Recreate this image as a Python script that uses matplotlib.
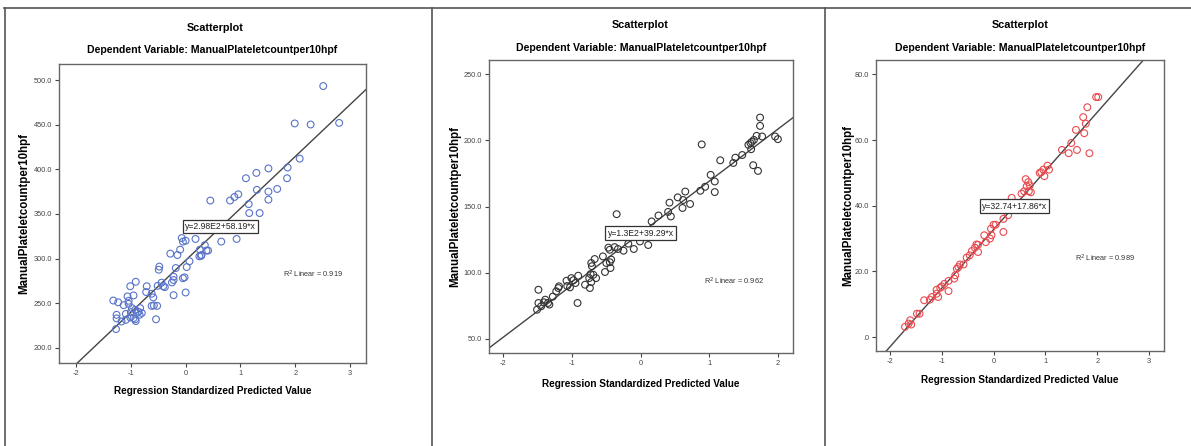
import matplotlib
matplotlib.use("Agg")
import matplotlib.pyplot as plt
from matplotlib.lines import Line2D

# ---- data ----
title_top = "Scatterplot"
title_dep = "Dependent Variable: ManualPlateletcountper10hpf"
x_label = "Regression Standardized Predicted Value"
y_label = "ManualPlateletcountper10hpf"

# panel 1 (blue)
p1_x = [2.51, 1.99, 2.28, 2.80, 2.08, 1.86, 1.85, 1.51, 1.29, 1.10, 0.96, 0.89, 0.81, 0.45,
        1.30, 1.67, 1.51, 1.51, 1.15, 1.16, 1.35, 0.93, 0.65, 0.18, -0.07, -0.05, 0.00, 0.35,
        0.26, 0.38, 0.41, 0.25, 0.28, 0.29, -0.10, -0.28, -0.15, 0.07, -0.18, 0.02, -0.48,
        -0.49, -0.05, -0.02, -0.22, -0.25, -0.22, 0.00, -0.22, -0.44, -0.41, -0.38, -0.51,
        -0.71, -0.72, -0.62, -0.59, -0.62, -0.58, -0.52, -0.54, -0.91, -1.01, -0.95, -1.06,
        -1.04, -1.04, -1.13, -1.32, -1.23, -1.26, -1.26, -1.17, -1.09, -1.27, -1.09, -1.01,
        -0.98, -0.92, -0.89, -0.86, -0.83, -0.84, -0.92, -0.91, -0.95, -1.00, -0.80]
p1_y = [493.3, 451.4, 450.2, 452.0, 412.0, 402.0, 390.0, 401.0, 396.0, 390.0, 372.0, 369.0,
        365.0, 365.0, 377.0, 378.0, 375.0, 366.0, 361.0, 351.0, 351.0, 322.0, 319.0, 322.0,
        323.0, 319.0, 320.0, 315.0, 310.0, 309.0, 309.0, 302.5, 303.0, 304.0, 310.0, 305.5,
        304.0, 297.0, 289.4, 290.5, 291.0, 287.5, 278.0, 279.0, 279.7, 273.3, 276.0, 262.0,
        259.0, 273.0, 269.0, 268.0, 269.5, 269.0, 262.5, 260.6, 256.5, 247.0, 247.5, 247.0,
        232.0, 274.0, 269.0, 258.7, 257.6, 252.7, 249.3, 247.8, 253.0, 251.0, 237.0, 233.0,
        229.5, 231.4, 221.0, 238.0, 234.0, 244.5, 242.6, 239.0, 240.4, 244.5, 237.0, 232.0,
        230.0, 233.3, 240.0, 239.0]
p1_fit = (298.0, 58.19)
p1_eq = "y=2.98E2+58.19*x"
p1_r2 = "0.919"
p1_yticks = [200, 250, 300, 350, 400, 450, 500]
p1_ylabels = ["200.0", "250.0", "300.0", "350.0", "400.0", "450.0", "500.0"]
p1_xticks = [-2, -1, 0, 1, 2, 3]

# panel 2 (black)
p2_x = [1.74, 1.74, 1.77, 1.96, 2.00, 1.69, 1.65, 1.62, 1.60, 1.57, 1.61, 1.64, 1.71, 0.89,
        1.16, 1.38, 1.48, 1.35, 1.02, 1.08, 1.08, 0.94, 0.87, 0.65, 0.62, 0.72, 0.61, 0.54,
        0.42, 0.44, 0.40, 0.26, 0.16, 0.11, -0.01, -0.10, -0.35, -0.18, -0.25, -0.33, -0.38,
        -0.45, -0.47, -0.43, -0.45, -0.50, -0.44, -0.52, -0.55, -0.67, -0.72, -0.71, -0.73,
        -0.69, -0.75, -0.65, -0.72, -0.74, -0.81, -0.91, -0.95, -1.01, -0.98, -1.08, -1.07,
        -1.03, -0.92, -1.20, -1.19, -1.23, -1.28, -1.39, -1.41, -1.33, -1.45, -1.51, -1.49,
        -1.49, -1.35]
p2_y = [217.3, 211.0, 203.0, 203.0, 201.0, 203.5, 200.4, 199.0, 198.0, 196.7, 193.4, 181.3,
        177.0, 197.0, 185.0, 187.0, 189.0, 183.0, 174.0, 169.0, 161.0, 165.0, 162.0, 161.4,
        155.0, 152.0, 149.0, 157.0, 153.0, 142.6, 146.0, 143.3, 138.8, 121.0, 123.7, 118.0,
        144.3, 122.0, 116.7, 118.0, 119.4, 117.4, 119.0, 110.0, 108.0, 107.4, 103.6, 100.6,
        112.4, 110.4, 107.4, 105.0, 99.0, 98.5, 96.0, 96.0, 93.0, 88.5, 91.0, 97.8, 92.3,
        96.0, 94.4, 94.0, 90.0, 89.0, 77.2, 88.5, 89.8, 86.0, 82.0, 79.7, 77.7, 76.0, 74.7,
        72.1, 77.2, 87.2, 77.2]
p2_fit = (130.0, 39.29)
p2_eq = "y=1.3E2+39.29*x"
p2_r2 = "0.962"
p2_yticks = [50, 100, 150, 200, 250]
p2_ylabels = ["50.0", "100.0", "150.0", "200.0", "250.0"]
p2_xticks = [-2, -1, 0, 1, 2]

# panel 3 (red)
p3_x = [1.98, 2.02, 1.81, 1.73, 1.78, 1.59, 1.75, 1.50, 1.61, 1.45, 1.85, 1.32, 1.04, 1.07,
        0.96, 0.92, 0.89, 0.98, 0.62, 0.67, 0.70, 0.64, 0.59, 0.68, 0.72, 0.54, 0.35, 0.31,
        0.25, 0.28, 0.19, 0.19, 0.00, 0.04, -0.05, -0.04, -0.07, -0.18, -0.15, -0.33, -0.30,
        -0.30, -0.36, -0.42, -0.46, -0.52, -0.58, -0.65, -0.68, -0.71, -0.74, -0.76, -0.87,
        -0.87, -0.95, -1.00, -1.03, -1.10, -1.10, -1.07, -1.19, -1.23, -1.34, -1.43, -1.48,
        -1.61, -1.64, -1.59, -1.71]
p3_y = [73.1, 73.1, 70.0, 67.0, 65.0, 63.1, 62.1, 59.1, 57.0, 56.0, 56.0, 57.0, 52.2, 51.0,
        51.0, 50.2, 50.0, 49.0, 48.1, 47.2, 46.2, 45.9, 44.4, 44.4, 44.1, 43.7, 42.4, 39.6,
        39.1, 37.1, 36.0, 32.0, 34.2, 34.2, 33.0, 31.0, 30.0, 31.0, 28.9, 28.2, 28.1, 25.9,
        27.2, 26.2, 24.9, 24.2, 22.1, 22.1, 21.3, 20.8, 18.8, 17.8, 17.1, 14.0, 16.2, 15.4,
        15.0, 14.4, 13.2, 12.2, 12.2, 11.4, 11.2, 7.1, 7.1, 5.1, 4.1, 3.8, 3.1]
p3_fit = (32.74, 17.86)
p3_eq = "y=32.74+17.86*x"
p3_r2 = "0.989"
p3_yticks = [0, 20, 40, 60, 80]
p3_ylabels = [".0", "20.0", "40.0", "60.0", "80.0"]
p3_xticks = [-2, -1, 0, 1, 2, 3]

# ---- layout (pixels) ----
W, H = 1191, 446
NARROW = ["Liberation Sans Narrow", "Liberation Sans", "DejaVu Sans"]
REG = ["Liberation Sans", "DejaVu Sans"]

def fx(px):
    return px / W

def fy(py):
    return 1 - py / H

fig = plt.figure(figsize=(W / 100, H / 100), dpi=100)
fig.patch.set_facecolor("white")

# outer frame and separators
frame_col = "#555555"
fig.add_artist(Line2D([fx(4), fx(1191)], [fy(8), fy(8)], color=frame_col, lw=1.2))
for xp in [5, 432, 825]:
    fig.add_artist(Line2D([fx(xp), fx(xp)], [fy(8), fy(446)], color=frame_col, lw=1.2))

panels = [
    dict(x=p1_x, y=p1_y, fit=p1_fit, eq=p1_eq, r2=p1_r2, yt=p1_yticks, yl=p1_ylabels,
         xt=p1_xticks, color="#5873c8", box=(59, 366, 64, 363), xlim=(-2.31, 3.29),
         ylim=(183, 518), eq_pos=(0.63, 336), r2_pos=(1.78, 282),
         t1=28, t2=50, cx=215, ylx=24, xly=391),
    dict(x=p2_x, y=p2_y, fit=p2_fit, eq=p2_eq, r2=p2_r2, yt=p2_yticks, yl=p2_ylabels,
         xt=p2_xticks, color="#333333", box=(489, 793, 60, 353), xlim=(-2.21, 2.22),
         ylim=(39.4, 260.8), eq_pos=(0.0, 130), r2_pos=(0.93, 93.5),
         t1=25, t2=48, cx=640, ylx=455, xly=384),
    dict(x=p3_x, y=p3_y, fit=p3_fit, eq=p3_eq, r2=p3_r2, yt=p3_yticks, yl=p3_ylabels,
         xt=p3_xticks, color="#e84a4f", box=(876, 1164, 60, 351), xlim=(-2.27, 3.29),
         ylim=(-4.26, 84.4), eq_pos=(0.40, 39.9), r2_pos=(1.57, 24.1),
         t1=25, t2=48, cx=1020, ylx=848, xly=380),
]

for p in panels:
    l, r, t, b = p["box"]
    ax = fig.add_axes([fx(l), fy(b), (r - l) / W, (b - t) / H])
    ax.set_xlim(*p["xlim"])
    ax.set_ylim(*p["ylim"])

    ax.scatter(p["x"], p["y"], s=24, facecolors="none", edgecolors=p["color"],
               linewidths=0.8, zorder=3)

    a, k = p["fit"]
    x0, x1 = p["xlim"]
    ax.plot([x0, x1], [a + k * x0, a + k * x1], color="#444444", lw=1.0, zorder=2)

    ax.text(p["eq_pos"][0], p["eq_pos"][1], p["eq"], ha="center", va="center",
            fontsize=6.2, family=NARROW, color="#222222", zorder=4,
            bbox=dict(boxstyle="square,pad=0.25", fc="white", ec="#333333", lw=0.9))
    ax.text(p["r2_pos"][0], p["r2_pos"][1], "R$^2$ Linear = " + p["r2"], ha="left",
            va="center", fontsize=5.3, family=NARROW, color="#333333")

    ax.set_xticks(p["xt"])
    ax.set_xticklabels([str(v) for v in p["xt"]])
    ax.set_yticks(p["yt"])
    ax.set_yticklabels(p["yl"])
    ax.tick_params(direction="out", length=3, width=0.8, labelsize=5.3,
                   labelcolor="#444444", color="#444444", pad=2)
    for lab in ax.get_xticklabels() + ax.get_yticklabels():
        lab.set_family(NARROW)
    for s in ax.spines.values():
        s.set_color("#666666")
        s.set_linewidth(1.0)

    fig.text(fx(p["cx"]), fy(p["t1"]), title_top, ha="center", va="center",
             fontsize=7.8, fontweight="bold", family=NARROW)
    fig.text(fx((l + r) / 2), fy(p["t2"]), title_dep, ha="center", va="center",
             fontsize=7.6, fontweight="bold", family=NARROW)
    fig.text(fx((l + r) / 2), fy(p["xly"]), x_label, ha="center", va="center",
             fontsize=7.2, fontweight="bold", family=NARROW)
    fig.text(fx(p["ylx"]), fy((t + b) / 2), y_label, ha="center", va="center",
             rotation=90, fontsize=8.3, fontweight="bold", family=REG)

fig.savefig("out.png", dpi=100, facecolor="white")
